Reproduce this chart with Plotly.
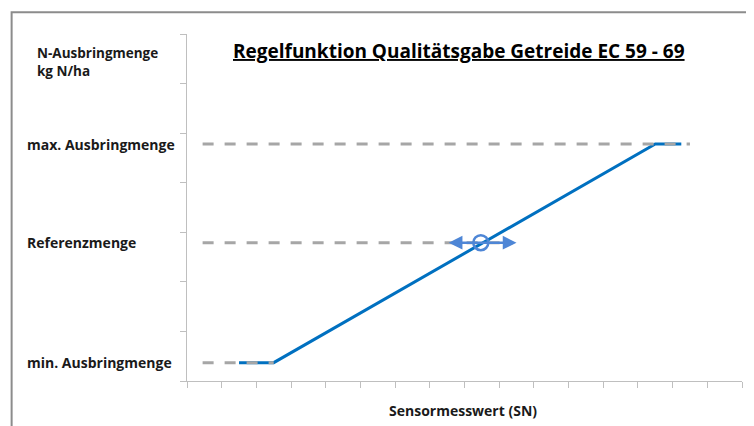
import plotly.graph_objects as go

# --- data ---
regel_x = [1.5, 2.5, 13.5, 14.25]          # Regelfunktion (Sensormesswert)
regel_y = [0.37, 0.37, 4.78, 4.78]         # N-Ausbringmenge
min_x = [0.45, 2.5]
min_y = [0.37, 0.37]
max_x = [0.45, 14.5]
max_y = [4.78, 4.78]
ref_x = [0.45, 9.4]
ref_y = [2.79, 2.79]
ref_point_x = [8.47]
ref_point_y = [2.79]
arrow_left_x = 7.5
arrow_right_x = 9.5

y_labels = ["min. Ausbringmenge", "Referenzmenge", "max. Ausbringmenge"]
y_label_vals = [0.37, 2.79, 4.78]

BLUE = "#0070C0"
ARROW = "#4E86D6"
GRAY = "#A6A6A6"
AXIS = "#BFBFBF"
FONT = "Open Sans, Lato, sans-serif"

fig = go.Figure()

fig.add_trace(go.Scatter(x=regel_x, y=regel_y, mode="lines",
                         line=dict(color=BLUE, width=3), hoverinfo="skip"))
for xs, ys in [(min_x, min_y), (ref_x, ref_y), (max_x, max_y)]:
    fig.add_trace(go.Scatter(x=xs, y=ys, mode="lines",
                             line=dict(color=GRAY, width=3, dash="11px,11px"),
                             hoverinfo="skip"))

# double arrow
fig.add_annotation(x=arrow_right_x, y=ref_point_y[0], ax=arrow_left_x, ay=ref_point_y[0],
                   xref="x", yref="y", axref="x", ayref="y", text="",
                   showarrow=True, arrowhead=2, arrowsize=1.1, arrowwidth=2.5,
                   arrowside="end+start", arrowcolor=ARROW)
fig.add_trace(go.Scatter(x=ref_point_x, y=ref_point_y, mode="markers",
                         marker=dict(size=15, color="rgba(0,0,0,0)",
                                     line=dict(color=ARROW, width=2.5)),
                         hoverinfo="skip"))

# y category labels
for lab, v in zip(y_labels, y_label_vals):
    fig.add_annotation(x=-0.292, y=v, xref="paper", yref="y", text="<b>" + lab + "</b>",
                       showarrow=False, xanchor="left", yanchor="middle",
                       font=dict(family=FONT, size=14, color="#1a1a1a"))

fig.add_annotation(x=-0.274, y=0.919, xref="paper", yref="paper",
                   text="<b>N-Ausbringmenge</b><br><b>kg N/ha</b>",
                   showarrow=False, xanchor="left", yanchor="middle", align="left",
                   font=dict(family=FONT, size=13.5, color="#1a1a1a"))

fig.add_annotation(x=0.497, y=-0.086, xref="paper", yref="paper",
                   text="<b>Sensormesswert (SN)</b>", showarrow=False,
                   xanchor="center", yanchor="middle",
                   font=dict(family=FONT, size=14, color="#1a1a1a"))

fig.add_annotation(x=0.49, y=0.951, xref="paper", yref="paper",
                   text="<b><u>Regelfunktion Qualitätsgabe Getreide EC 59 - 69</u></b>",
                   showarrow=False, xanchor="center", yanchor="middle",
                   font=dict(family=FONT, size=19, color="#000000"))

# outer frame
fig.add_shape(type="rect", xref="paper", yref="paper",
              x0=-0.316, x1=1.0115, y0=-0.3, y1=1.063,
              line=dict(color="#8C8C8C", width=2), fillcolor="rgba(0,0,0,0)")

# page body has an 8px margin: figure is shrunk so the plot area lands at x 187-742, y 34-381
fig.update_layout(
    width=746, height=418,
    margin=dict(l=179, r=12, t=26, b=45),
    paper_bgcolor="white", plot_bgcolor="white",
    showlegend=False,
    xaxis=dict(range=[0, 16], dtick=1, tick0=0, showgrid=False, zeroline=False,
               showline=True, linecolor=AXIS, linewidth=1,
               ticks="outside", ticklen=6, tickcolor=AXIS, showticklabels=False,
               fixedrange=True),
    yaxis=dict(range=[0, 7], dtick=1, tick0=0, showgrid=False, zeroline=False,
               showline=True, linecolor=AXIS, linewidth=1,
               ticks="outside", ticklen=6, tickcolor=AXIS, showticklabels=False,
               fixedrange=True),
)

fig.write_html("out.html")
